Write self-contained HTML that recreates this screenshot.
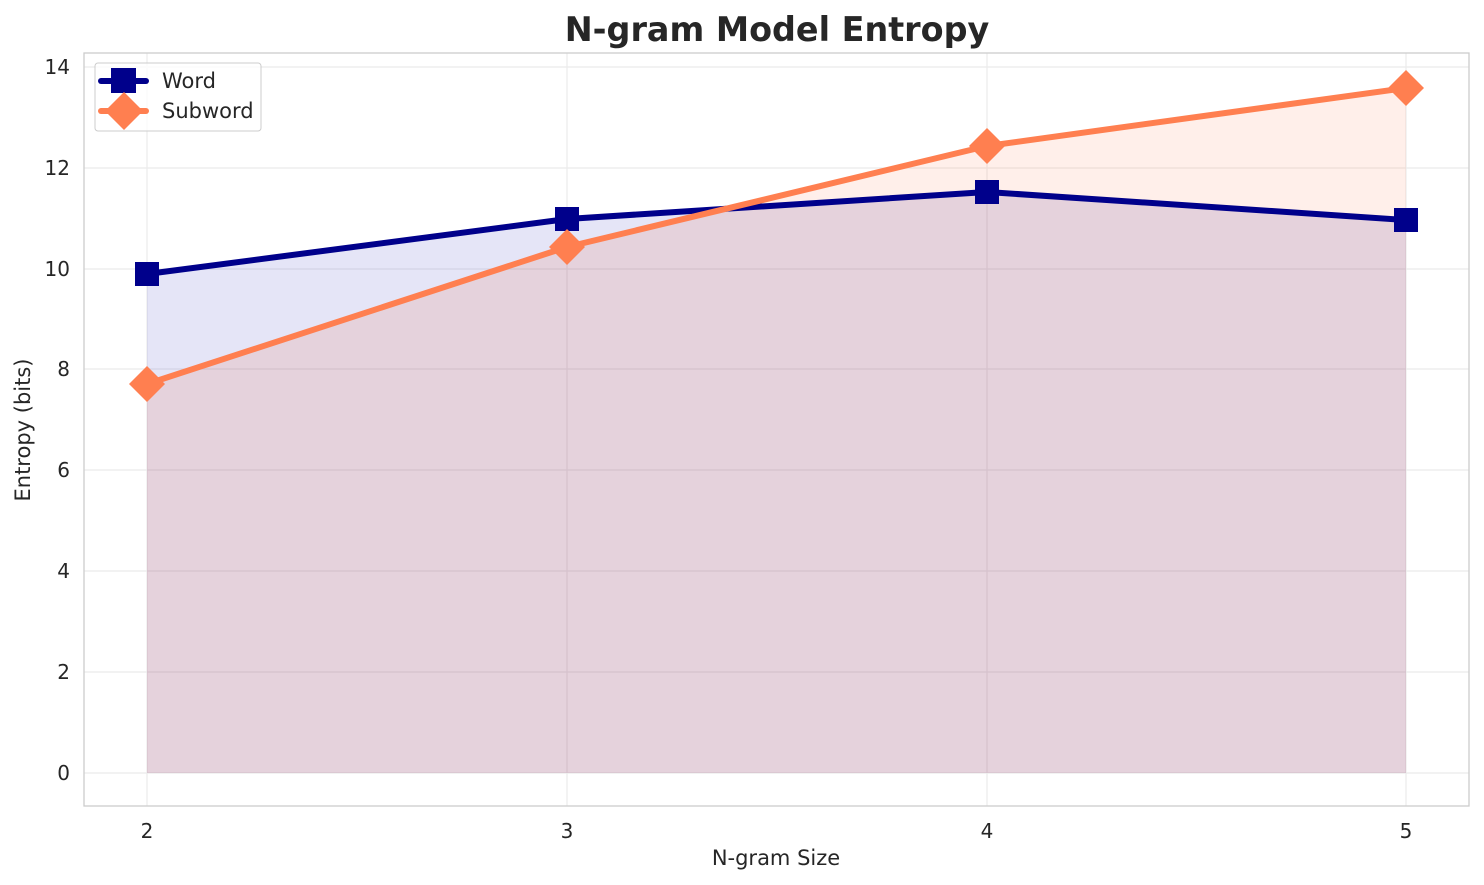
<!DOCTYPE html>
<html><head><meta charset="utf-8"><style>
html,body{margin:0;padding:0;background:#fff;}
svg{display:block;font-family:"DejaVu Sans","Liberation Sans",sans-serif;}
</style></head><body>
<svg width="1484" height="885" viewBox="0 0 1484 885" xmlns="http://www.w3.org/2000/svg">
<rect width="1484" height="885" fill="#fff"/>
<g stroke="#ebebeb" stroke-width="1.2">
<line x1="147" y1="53" x2="147" y2="806"/><line x1="567" y1="53" x2="567" y2="806"/>
<line x1="987" y1="53" x2="987" y2="806"/><line x1="1406" y1="53" x2="1406" y2="806"/>
<line x1="84" y1="773" x2="1469" y2="773"/><line x1="84" y1="672" x2="1469" y2="672"/>
<line x1="84" y1="571" x2="1469" y2="571"/><line x1="84" y1="470" x2="1469" y2="470"/>
<line x1="84" y1="369" x2="1469" y2="369"/><line x1="84" y1="269" x2="1469" y2="269"/>
<line x1="84" y1="168" x2="1469" y2="168"/><line x1="84" y1="67" x2="1469" y2="67"/>
</g>
<polygon points="147,773 147,274 567,219 987,192 1406,220 1406,773" fill="#0000b4" fill-opacity="0.1"/>
<polygon points="147,773 147,384 567,247 987,146 1406,88 1406,773" fill="#ff7f50" fill-opacity="0.12"/>
<polygon points="147,773 147,384 567,247 726,209 987,192 1406,220 1406,773" fill="#b06060" fill-opacity="0.05"/>
<rect x="84" y="53" width="1385" height="753" fill="none" stroke="#cccccc" stroke-width="1.3"/>
<polyline points="147,274 567,219 987,192 1406,220" fill="none" stroke="#00008b" stroke-width="6" stroke-linejoin="round"/>
<g fill="#00008b">
<rect x="135" y="262" width="24" height="24"/><rect x="555" y="207" width="24" height="24"/>
<rect x="975" y="180" width="24" height="24"/><rect x="1394" y="208" width="24" height="24"/>
</g>
<polyline points="147,384 567,247 987,146 1406,88" fill="none" stroke="#ff7f50" stroke-width="6" stroke-linejoin="round"/>
<g fill="#ff7f50">
<polygon points="147,366 165,384 147,402 129,384"/><polygon points="567,229 585,247 567,265 549,247"/>
<polygon points="987,128 1005,146 987,164 969,146"/><polygon points="1406,70 1424,88 1406,106 1388,88"/>
</g>
<g font-size="20" fill="#262626" text-anchor="end">
<text x="70" y="780">0</text><text x="70" y="679">2</text><text x="70" y="578">4</text>
<text x="70" y="477">6</text><text x="70" y="376">8</text><text x="70" y="276">10</text>
<text x="70" y="175">12</text><text x="70" y="74">14</text>
</g>
<g font-size="20" fill="#262626" text-anchor="middle">
<text x="147" y="838">2</text><text x="567" y="838">3</text><text x="987" y="838">4</text><text x="1406" y="838">5</text>
<text x="776" y="865" font-size="21">N-gram Size</text>
<text x="777" y="41" font-size="33.4" font-weight="bold">N-gram Model Entropy</text>
</g>
<text transform="translate(30,430) rotate(-90)" font-size="21" fill="#262626" text-anchor="middle">Entropy (bits)</text>
<rect x="95" y="63" width="166" height="68" rx="3" fill="#fff" fill-opacity="0.8" stroke="#cccccc" stroke-width="1"/>
<line x1="101" y1="81" x2="146" y2="81" stroke="#00008b" stroke-width="6" stroke-linecap="round"/>
<rect x="111" y="68" width="25" height="25" fill="#00008b"/>
<line x1="101" y1="111" x2="146" y2="111" stroke="#ff7f50" stroke-width="6" stroke-linecap="round"/>
<polygon points="124,92 143,111 124,130 105,111" fill="#ff7f50"/>
<text x="162" y="88" font-size="21" fill="#262626">Word</text>
<text x="162" y="118" font-size="21" fill="#262626">Subword</text>
</svg>
</body></html>
